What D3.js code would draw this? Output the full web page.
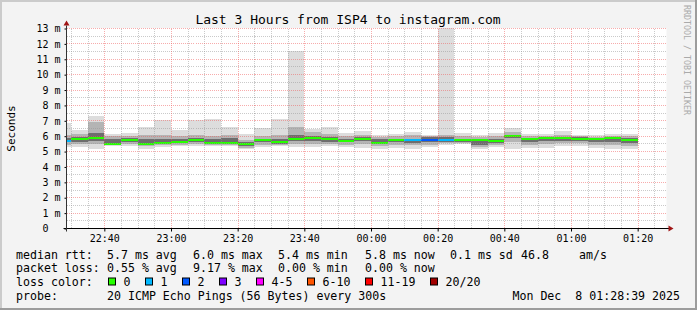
<!DOCTYPE html>
<html>
<head>
<meta charset="utf-8">
<script src="https://cdn.jsdelivr.net/npm/d3@7"></script>
<style>
  body { margin: 0; background: #f3f3f3; }
  svg { display: block; font-family: "DejaVu Sans Mono", monospace; }
  text { white-space: pre; }
</style>
</head>
<body>
<div id="chart"></div>
<script>
// --- data (5 minute bins, ms) ---
const chartTitle = "Last 3 Hours from ISP4 to instagram.com";
const yLabel = "Seconds";
const firstBin = new Date(2025, 11, 7, 22, 25);
const viewStart = new Date(2025, 11, 7, 22, 28, 39);
const viewEnd = new Date(2025, 11, 8, 1, 28, 39);

const maxRtt = [6.88, 6.40, 7.33, 6.12, 6.23, 6.62, 7.05, 6.42, 7.05, 7.12, 6.62, 6.14, 6.51, 7.12, 11.54, 6.45, 6.62, 6.19,
                6.34, 6.08, 6.14, 6.27, 6.08, 13.40, 6.20, 6.08, 6.19, 6.53, 6.16, 6.12, 6.34, 6.08, 6.08, 6.12, 6.12];
const upperMid = [6.10, 6.15, 6.90, 6.00, 6.00, 6.10, 6.10, 6.00, 6.05, 6.00, 6.05, 5.75, 6.00, 6.05, 6.60, 6.30, 6.15, 6.00,
                  6.10, 5.95, 6.00, 6.05, 6.00, 6.10, 6.00, 5.95, 6.00, 6.30, 6.00, 6.00, 6.10, 6.00, 5.98, 6.02, 6.02];
const upperInner = [5.90, 5.95, 6.20, 5.85, 5.90, 5.85, 5.80, 5.80, 5.90, 5.80, 5.90, 5.60, 5.85, 5.80, 6.05, 6.00, 5.95, 5.85,
                    5.95, 5.80, 5.85, 5.85, 5.92, 5.95, 5.85, 5.80, 5.85, 6.10, 5.90, 5.92, 5.95, 5.95, 5.90, 5.95, 5.90];
const medianRtt = [5.70, 5.84, 5.88, 5.51, 5.77, 5.51, 5.58, 5.62, 5.73, 5.58, 5.58, 5.47, 5.75, 5.60, 5.82, 5.86, 5.82, 5.71,
                   5.82, 5.58, 5.75, 5.73, 5.77, 5.77, 5.77, 5.77, 5.71, 6.04, 5.84, 5.90, 5.90, 5.84, 5.84, 5.90, 5.75];
const lowerInner = [5.60, 5.65, 5.70, 5.45, 5.60, 5.45, 5.50, 5.55, 5.60, 5.50, 5.50, 5.35, 5.60, 5.50, 5.70, 5.70, 5.65, 5.60,
                    5.70, 5.50, 5.60, 5.55, 5.60, 5.65, 5.65, 5.45, 5.55, 5.90, 5.60, 5.70, 5.70, 5.70, 5.60, 5.60, 5.55];
const lowerMid = [5.45, 5.50, 5.50, 5.42, 5.50, 5.35, 5.40, 5.45, 5.50, 5.42, 5.42, 5.25, 5.45, 5.45, 5.50, 5.50, 5.50, 5.45,
                  5.50, 5.35, 5.40, 5.40, 5.45, 5.55, 5.55, 5.30, 5.40, 5.60, 5.45, 5.50, 5.55, 5.55, 5.45, 5.40, 5.35];
const minRtt = [5.32, 5.32, 5.17, 5.38, 5.38, 5.19, 5.32, 5.38, 5.38, 5.38, 5.38, 5.17, 5.28, 5.38, 5.32, 5.32, 5.38, 5.32,
                5.25, 5.17, 5.25, 5.17, 5.32, 5.45, 5.48, 5.17, 5.32, 5.17, 5.25, 5.25, 5.38, 5.38, 5.25, 5.17, 5.17];
// lost pings out of 20 per bin
const lostPings = [1, 0, 0, 0, 0, 0, 0, 0, 0, 0, 0, 0, 0, 0, 0, 0, 0, 0,
                   0, 0, 0, 1, 2, 1, 0, 0, 0, 0, 0, 0, 0, 0, 0, 0, 0];

const yTickValues = d3.range(0, 14);
const lossLabels = ["0", "1", "2", "3", "4-5", "6-10", "11-19", "20/20"];
const lossUpper = [0, 1, 2, 3, 5, 10, 19, 20];
const lossColors = ["#26ff00", "#00b8ff", "#0059ff", "#7e00ff", "#ff00ff", "#ff5500", "#ff0000", "#a10000"];

const rttStats = ["5.7 ms avg", "6.0 ms max", "5.4 ms min", "5.8 ms now", "0.1 ms sd", "46.8", "am/s"];
const lossStats = ["0.55 % avg", "9.17 % max", "0.00 % min", "0.00 % now"];
const probeText = "20 ICMP Echo Pings (56 Bytes) every 300s";
const stampText = "Mon Dec  8 01:28:39 2025";

// --- layout ---
const W = 697, H = 310;
const plotLeft = 66.5, plotRight = 666.5, plotTop = 28.5, plotBottom = 228.5;

const svg = d3.select("#chart").append("svg")
    .attr("width", W)
    .attr("height", H);

// background + 3d frame
svg.append("rect").attr("width", W).attr("height", H).attr("fill", "#f3f3f3");
svg.append("path").attr("fill", "#cbcbcb")
    .attr("d", `M0,0H${W}V2H2V${H}H0Z`);
svg.append("path").attr("fill", "#9c9c9c")
    .attr("d", `M${W},0V${H}H0V${H - 2}H${W - 2}V0Z`);

const x = d3.scaleTime().domain([viewStart, viewEnd]).range([plotLeft, plotRight]);
const y = d3.scaleLinear().domain([0, 13]).range([plotBottom, plotTop]);

svg.append("rect")
    .attr("x", plotLeft).attr("y", plotTop - 0.5)
    .attr("width", plotRight - plotLeft).attr("height", plotBottom - plotTop + 0.5)
    .attr("fill", "#ffffff");

svg.append("clipPath").attr("id", "plot")
    .append("rect")
    .attr("x", plotLeft).attr("y", plotTop - 0.5)
    .attr("width", plotRight - plotLeft).attr("height", plotBottom - plotTop + 0.5);

const bins = maxRtt.map((m, i) => ({
    t0: d3.timeMinute.offset(firstBin, 5 * i),
    t1: d3.timeMinute.offset(firstBin, 5 * i + 5),
    max: m, hiMid: upperMid[i], hiIn: upperInner[i], med: medianRtt[i],
    loIn: lowerInner[i], loMid: lowerMid[i], min: minRtt[i], lost: lostPings[i]
}));

const plot = svg.append("g").attr("clip-path", "url(#plot)");

const bands = [
    ["min", "max", "#dddddd"],
    ["loMid", "hiMid", "#b4b4b4"],
    ["loIn", "hiIn", "#6e6e6e"]
];

bands.forEach(([lo, hi, color]) => {
    plot.append("g")
        .attr("fill", color)
        .attr("shape-rendering", "crispEdges")
        .selectAll("rect")
        .data(bins)
        .enter()
        .append("rect")
        .attr("x", d => x(d.t0))
        .attr("width", d => x(d.t1) - x(d.t0))
        .attr("y", d => y(d[hi]))
        .attr("height", d => y(d[lo]) - y(d[hi]));
});

const lossColor = lost => lossColors[lossUpper.findIndex(u => lost <= u)];

plot.append("g")
    .attr("shape-rendering", "crispEdges")
    .selectAll("rect")
    .data(bins)
    .enter()
    .append("rect")
    .attr("x", d => x(d.t0))
    .attr("width", d => x(d.t1) - x(d.t0))
    .attr("y", d => Math.round(y(d.med)) - 1)
    .attr("height", 2)
    .attr("fill", d => lossColor(d.lost));

// grid, drawn over the smoke like rrdtool does
const grid = svg.append("g").attr("shape-rendering", "crispEdges").attr("stroke-dasharray", "1,1");

const minorX = x.ticks(d3.timeMinute.every(5)).filter(t => t.getMinutes() % 20 !== 0);
const majorX = x.ticks(d3.timeMinute.every(20));

grid.selectAll("line.hminor")
    .data(d3.range(0.5, 13, 1))
    .enter().append("line")
    .attr("class", "hminor")
    .attr("x1", plotLeft).attr("x2", plotRight)
    .attr("y1", d => y(d)).attr("y2", d => y(d))
    .attr("stroke", "rgba(150,150,150,0.5)");

grid.selectAll("line.vminor")
    .data(minorX)
    .enter().append("line")
    .attr("class", "vminor")
    .attr("x1", d => Math.round(x(d)) + 0.5).attr("x2", d => Math.round(x(d)) + 0.5)
    .attr("y1", plotTop).attr("y2", plotBottom)
    .attr("stroke", "rgba(150,150,150,0.5)");

grid.selectAll("line.hmajor")
    .data(yTickValues.filter(v => v > 0))
    .enter().append("line")
    .attr("class", "hmajor")
    .attr("x1", plotLeft).attr("x2", plotRight)
    .attr("y1", d => y(d)).attr("y2", d => y(d))
    .attr("stroke", "rgba(240,90,90,0.5)");

grid.selectAll("line.vmajor")
    .data(majorX)
    .enter().append("line")
    .attr("class", "vmajor")
    .attr("x1", d => Math.round(x(d)) + 0.5).attr("x2", d => Math.round(x(d)) + 0.5)
    .attr("y1", plotTop).attr("y2", plotBottom)
    .attr("stroke", "rgba(240,90,90,0.5)");

// axes
const xAxis = svg.append("g")
    .attr("transform", `translate(0,${plotBottom})`)
    .call(d3.axisBottom(x)
        .ticks(d3.timeMinute.every(20))
        .tickFormat(d3.timeFormat("%H:%M"))
        .tickSize(3)
        .tickPadding(3));
xAxis.select(".domain").remove();
xAxis.selectAll("text").attr("font-size", 10).attr("font-family", "DejaVu Sans Mono").attr("fill", "#000");

const yAxis = svg.append("g")
    .attr("transform", `translate(${plotLeft},0)`)
    .call(d3.axisLeft(y)
        .tickValues(yTickValues)
        .tickFormat(v => v === 0 ? "0  " : d3.format("2d")(v) + " m")
        .tickSize(2)
        .tickPadding(4));
yAxis.select(".domain").remove();
yAxis.selectAll("text").attr("font-size", 10).attr("font-family", "DejaVu Sans Mono").attr("fill", "#000");

svg.append("line")
    .attr("x1", plotLeft - 3).attr("x2", plotRight + 3)
    .attr("y1", plotBottom).attr("y2", plotBottom)
    .attr("stroke", "#000");
svg.append("line")
    .attr("x1", plotLeft).attr("x2", plotLeft)
    .attr("y1", plotBottom + 3).attr("y2", plotTop - 3)
    .attr("stroke", "#333");
svg.append("path").attr("fill", "#a01515")
    .attr("d", `M${plotRight + 2},${plotBottom - 3}L${plotRight + 7},${plotBottom}L${plotRight + 2},${plotBottom + 3}Z`);
svg.append("path").attr("fill", "#a01515")
    .attr("d", `M${plotLeft - 3},${plotTop - 3}L${plotLeft},${plotTop - 8}L${plotLeft + 3},${plotTop - 3}Z`);

// title and labels
svg.append("text")
    .attr("x", 348).attr("y", 24)
    .attr("text-anchor", "middle")
    .attr("font-size", 13)
    .text(chartTitle);

svg.append("text")
    .attr("transform", `translate(15,${(plotTop + plotBottom) / 2}) rotate(-90)`)
    .attr("text-anchor", "middle")
    .attr("font-size", 11)
    .text(yLabel);

svg.append("text")
    .attr("transform", "translate(684,5) rotate(90)")
    .attr("font-size", 8.3)
    .attr("fill", "#aaaaaa")
    .text("RRDTOOL / TOBI OETIKER");

// legend
const legend = svg.append("g").attr("font-size", 11.6).attr("fill", "#000");
const rowY = [258.5, 272.2, 286, 299.6];
const colX = [107, 193, 278, 365, 450, 521, 579];

legend.append("text").attr("x", 16).attr("y", rowY[0]).text("median rtt:");
legend.selectAll("text.rtt").data(rttStats).enter().append("text")
    .attr("class", "rtt").attr("x", (d, i) => colX[i]).attr("y", rowY[0]).text(d => d);

legend.append("text").attr("x", 16).attr("y", rowY[1]).text("packet loss:");
legend.selectAll("text.loss").data(lossStats).enter().append("text")
    .attr("class", "loss").attr("x", (d, i) => colX[i]).attr("y", rowY[1]).text(d => d);

legend.append("text").attr("x", 16).attr("y", rowY[2]).text("loss color:");
const swatchX = [108.5, 145.5, 182.5, 219.5, 256.5, 307.5, 365.5, 430.5];
const sw = legend.selectAll("g.sw").data(lossLabels).enter().append("g")
    .attr("class", "sw")
    .attr("transform", (d, i) => `translate(${swatchX[i]},${rowY[2] - 8})`);
sw.append("rect")
    .attr("width", 7).attr("height", 7)
    .attr("fill", (d, i) => lossColors[i])
    .attr("stroke", "#000");
sw.append("text").attr("x", 15).attr("y", 8).text(d => d);

legend.append("text").attr("x", 16).attr("y", rowY[3]).text("probe:");
legend.append("text").attr("x", colX[0]).attr("y", rowY[3]).text(probeText);
legend.append("text").attr("x", 680).attr("y", rowY[3]).attr("text-anchor", "end").text(stampText);
</script>
</body>
</html>
